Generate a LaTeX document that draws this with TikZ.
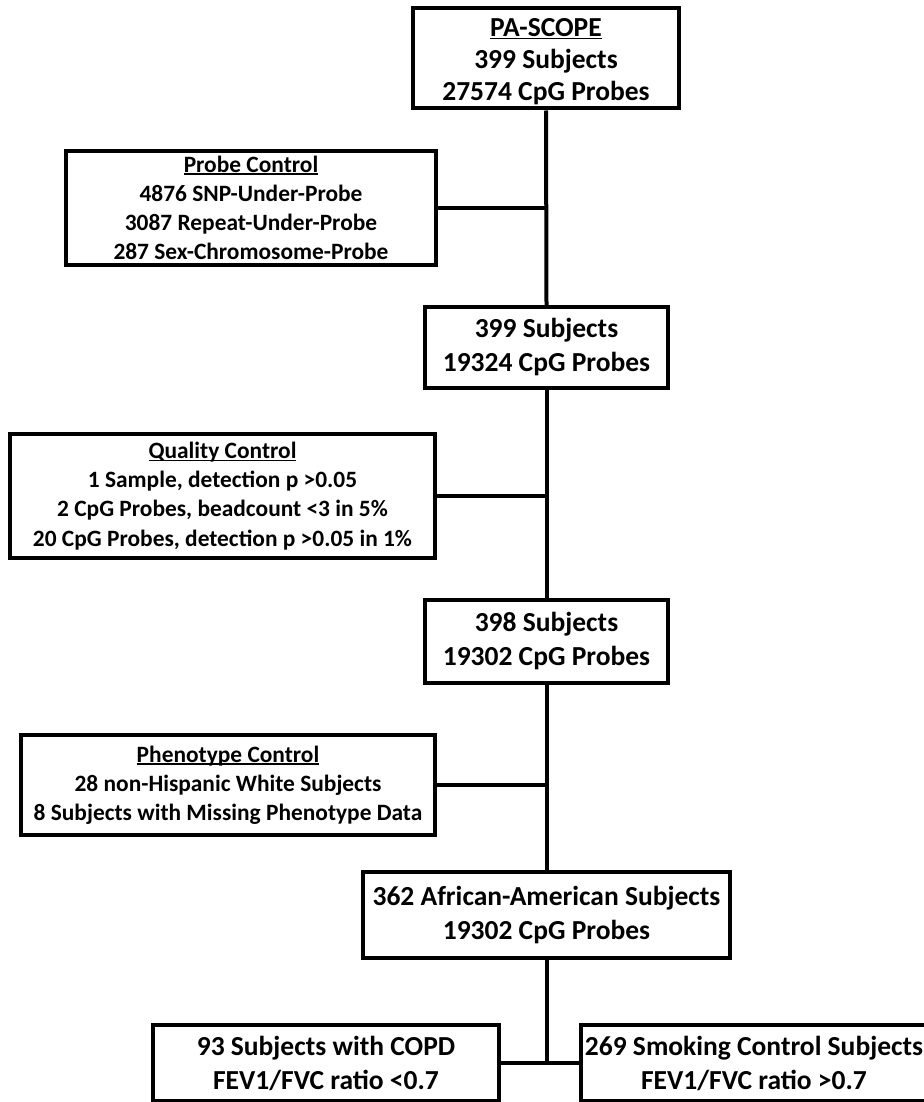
\documentclass[tikz,border=0pt]{standalone}
\usepackage{fontspec}
\setmainfont{Carlito}
\newcommand\myul[1]{\setbox0\hbox{#1}\rlap{\rule[-0.11em]{\wd0}{0.065em}}\box0}
\tikzset{
  mainbox/.style={draw, line width=4pt, align=center, inner sep=0pt,
    font=\fontsize{27.5}{34}\selectfont\bfseries},
  sidebox/.style={draw, line width=4pt, align=center, inner sep=0pt,
    font=\fontsize{23.4}{29.2}\selectfont\bfseries},
  conn/.style={line width=4pt}
}
\begin{document}
\begin{tikzpicture}[x=1pt,y=-1pt]
\useasboundingbox[fill=white] (0,0) rectangle (923,1102);
\node[mainbox, font=\fontsize{27.5}{32}\selectfont\bfseries, minimum width=266pt, minimum height=100pt] (n1) at (546,58.5)
  {\rule{0pt}{24pt}\myul{PA-SCOPE}\\399 Subjects\\27574 CpG Probes};
\node[sidebox, minimum width=370pt, minimum height=114pt] (pc) at (251,208)
  {\myul{Probe Control}\\4876 SNP-Under-Probe\\3087 Repeat-Under-Probe\\287 Sex-Chromosome-Probe};
\node[mainbox, minimum width=243pt, minimum height=81pt] (n2) at (546.5,347.5)
  {399 Subjects\\19324 CpG Probes};
\node[sidebox, minimum width=425pt, minimum height=124pt] (qc) at (222.5,496)
  {\myul{Quality Control}\\1 Sample, detection p >0.05\\2 CpG Probes, beadcount <3 in 5\%\\20 CpG Probes, detection p >0.05 in 1\%};
\node[mainbox, minimum width=243pt, minimum height=83pt] (n3) at (546.5,641)
  {398 Subjects\\19302 CpG Probes};
\node[sidebox, minimum width=414pt, minimum height=100pt] (ph) at (228,785)
  {\myul{Phenotype Control}\\28 non-Hispanic White Subjects\\8 Subjects with Missing Phenotype Data};
\node[mainbox, minimum width=367pt, minimum height=86pt] (n4) at (546.5,915)
  {362 African-American Subjects\\19302 CpG Probes};
\node[mainbox, minimum width=346pt, minimum height=76pt] (b1) at (326,1063)
  {93 Subjects with COPD\\FEV1/FVC ratio <0.7};
\node[mainbox, minimum width=346pt, minimum height=76pt] (b2) at (754,1063)
  {269 Smoking Control Subjects\\FEV1/FVC ratio >0.7};
\draw[conn] (n1.south) -- (n2.north);
\draw[conn] (pc.east) -- (pc.east -| n1.south);
\draw[conn] (n2.south) -- (n3.north);
\draw[conn] (qc.east) -- (qc.east -| n2.south);
\draw[conn] (n3.south) -- (n4.north);
\draw[conn] (ph.east) -- (ph.east -| n3.south);
\draw[conn] (n4.south) -- (b1.east -| n4.south);
\draw[conn] (b1.east) -- (b2.west);
\end{tikzpicture}
\end{document}
